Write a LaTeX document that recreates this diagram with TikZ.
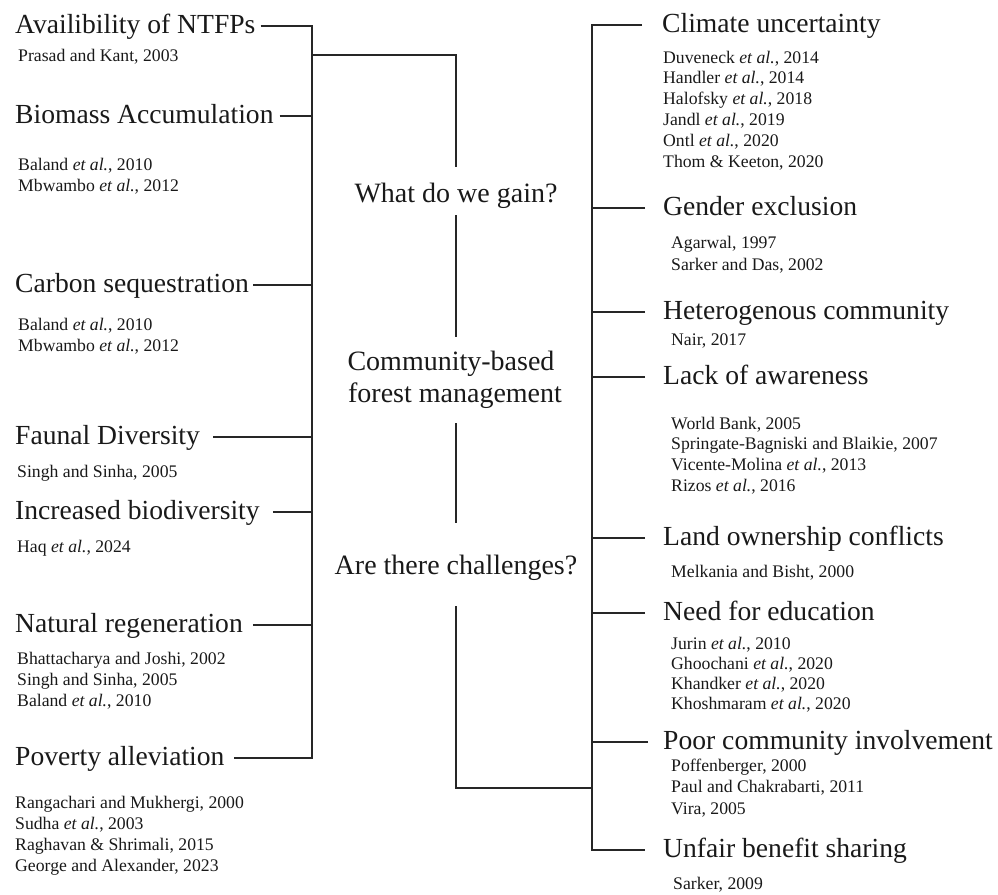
\documentclass[tikz,border=0pt]{standalone}
\usepackage{fontspec}
\setmainfont{Liberation Serif}
\usetikzlibrary{calc}
\newcommand\hdfont{\fontsize{27.6}{30}\selectfont}
\newcommand\ctrfont{\fontsize{28}{32}\selectfont}
\newcommand\ctfont{\fontsize{17.7}{21}\selectfont}
\newcommand\cblk[5]{\foreach \cl [count=\i from 0] in {#5} {\node[cite] (#1-\i) at (#2,{#3+#4*\i}) {\cl};}}
\tikzset{
  hd/.style={font=\hdfont, inner sep=0pt, text height=19pt, text depth=5pt, text=black!90, anchor=west},
  cite/.style={font=\ctfont, inner sep=0pt, anchor=base west, text=black!90},
  ctr/.style={font=\ctrfont, inner sep=0pt, text height=19pt, text depth=6pt, anchor=base, text=black!90},
  conn/.style={draw=black!85, line width=1.8pt}
}
\begin{document}
\begin{tikzpicture}[x=1pt,y=-1pt]
\useasboundingbox (0,0) rectangle (998,894);
% spines and branch points
\coordinate (Ls) at (312,0);
\coordinate (Rs) at (592,0);
\coordinate (Lbr) at (312,55);
\coordinate (Rbr) at (592,788);
% left headings
\node[hd] (LA) at (15,26) {Availibility of NTFPs};
\node[hd] (LB) at (15,116) {Biomass Accumulation};
\node[hd] (LC) at (15,285) {Carbon sequestration};
\node[hd] (LD) at (15,437) {Faunal Diversity};
\node[hd] (LE) at (15,512) {Increased biodiversity};
\node[hd] (LF) at (15,625) {Natural regeneration};
\node[hd] (LG) at (15,758) {Poverty alleviation};
% left citations
\cblk{cA}{18}{61}{21}{{Prasad and Kant, 2003}}
\cblk{cB}{18}{170}{21}{{Baland \textit{et al.}, 2010},{Mbwambo \textit{et al.}, 2012}}
\cblk{cC}{18}{330}{21}{{Baland \textit{et al.}, 2010},{Mbwambo \textit{et al.}, 2012}}
\cblk{cD}{17}{477}{21}{{Singh and Sinha, 2005}}
\cblk{cE}{17}{552}{21}{{Haq \textit{et al.}, 2024}}
\cblk{cF}{17}{664}{21}{{Bhattacharya and Joshi, 2002},{Singh and Sinha, 2005},{Baland \textit{et al.}, 2010}}
\cblk{cG}{15}{808}{21}{{Rangachari and Mukhergi, 2000},{Sudha \textit{et al.}, 2003},{Raghavan \& Shrimali, 2015},{George and Alexander, 2023}}
% right headings
\node[hd] (RA) at (662,25) {Climate uncertainty};
\node[hd] (RB) at (663,208) {Gender exclusion};
\node[hd] (RC) at (663,312) {Heterogenous community};
\node[hd] (RD) at (663,377) {Lack of awareness};
\node[hd] (RE) at (663,538) {Land ownership conflicts};
\node[hd] (RF) at (663,613) {Need for education};
\node[hd] (RG) at (663,742) {Poor community involvement};
\node[hd] (RH) at (663,850) {Unfair benefit sharing};
% right citations
\cblk{dA}{663}{63}{20.8}{{Duveneck \textit{et al.}, 2014},{Handler \textit{et al.}, 2014},{Halofsky \textit{et al.}, 2018},{Jandl \textit{et al.}, 2019},{Ontl \textit{et al.}, 2020},{Thom \& Keeton, 2020}}
\cblk{dB}{671}{248}{22}{{Agarwal, 1997},{Sarker and Das, 2002}}
\cblk{dC}{671}{345}{21}{{Nair, 2017}}
\cblk{dD}{671}{429}{20.7}{{World Bank, 2005},{Springate-Bagniski and Blaikie, 2007},{Vicente-Molina \textit{et al.}, 2013},{Rizos \textit{et al.}, 2016}}
\cblk{dE}{671}{577}{21}{{Melkania and Bisht, 2000}}
\cblk{dF}{671}{649}{20}{{Jurin \textit{et al.}, 2010},{Ghoochani \textit{et al.}, 2020},{Khandker \textit{et al.}, 2020},{Khoshmaram \textit{et al.}, 2020}}
\cblk{dG}{671}{771}{21.5}{{Poffenberger, 2000},{Paul and Chakrabarti, 2011},{Vira, 2005}}
\cblk{dH}{673}{889}{21}{{Sarker, 2009}}
% centre texts
\node[ctr] (gain) at (456,202) {What do we gain?};
\node[ctr] (cb1) at (451,370) {Community-based};
\node[ctr] (cb2) at (455,402) {forest management};
\node[ctr] (chal) at (456,574) {Are there challenges?};
% left tree
\draw[conn] ([xshift=5pt]LA.east) -- (LA.east -| Ls) -- (LG.east -| Ls) -- ([xshift=9pt]LG.east);
\draw[conn] ([xshift=6pt]LB.east) -- (LB.east -| Ls);
\draw[conn] ([xshift=4pt]LC.east) -- (LC.east -| Ls);
\draw[conn] ([xshift=13pt]LD.east) -- (LD.east -| Ls);
\draw[conn] ([xshift=13pt]LE.east) -- (LE.east -| Ls);
\draw[conn] ([xshift=10pt]LF.east) -- (LF.east -| Ls);
% right tree
\draw[conn] ([xshift=-20pt]RA.west) -- (RA.west -| Rs) -- (RH.west -| Rs) -- ([xshift=-18pt]RH.west);
\draw[conn] ([xshift=-18pt]RB.west) -- (RB.west -| Rs);
\draw[conn] ([xshift=-18pt]RC.west) -- (RC.west -| Rs);
\draw[conn] ([xshift=-18pt]RD.west) -- (RD.west -| Rs);
\draw[conn] ([xshift=-18pt]RE.west) -- (RE.west -| Rs);
\draw[conn] ([xshift=-18pt]RF.west) -- (RF.west -| Rs);
\draw[conn] ([xshift=-15pt]RG.west) -- (RG.west -| Rs);
% centre trunk
\draw[conn] (Lbr) -| ([yshift=16pt]gain.north);
\draw[conn] ([yshift=-7pt]gain.south) -- ($(gain.south |- cb1.north)+(0,-14)$);
\draw[conn] ($(gain.south |- cb2.south)+(0,15)$) -- ([yshift=32pt]chal.north);
\draw[conn] ([yshift=-26pt]chal.south) |- (Rbr);
\end{tikzpicture}
\end{document}
